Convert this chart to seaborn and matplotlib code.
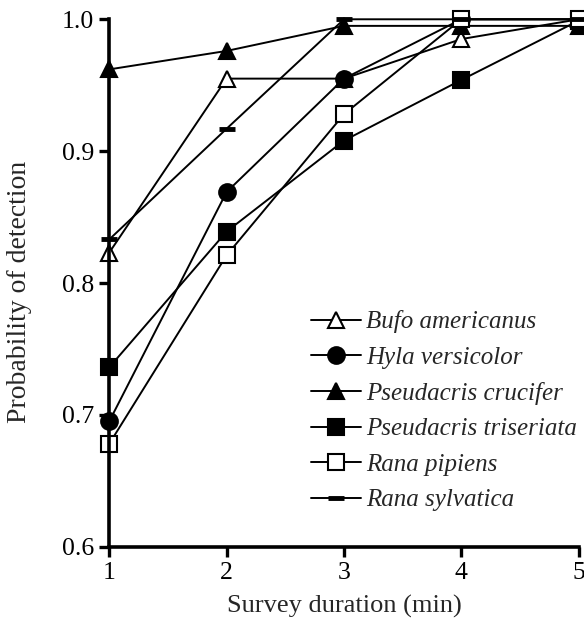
import numpy as np
import pandas as pd
import matplotlib
matplotlib.use("Agg")
import matplotlib.pyplot as plt
import seaborn as sns

# ─── Data ─────────────────────────────────────────────────────────────────────
duration = [1, 2, 3, 4, 5]
species = ["Bufo americanus", "Hyla versicolor", "Pseudacris crucifer",
           "Pseudacris triseriata", "Rana pipiens", "Rana sylvatica"]
bufo_americanus       = [0.823, 0.955, 0.955, 0.985, 1.000]
hyla_versicolor       = [0.695, 0.869, 0.955, 1.000, 1.000]
pseudacris_crucifer   = [0.962, 0.976, 0.995, 0.995, 0.995]
pseudacris_triseriata = [0.736, 0.839, 0.908, 0.954, 0.999]
rana_pipiens          = [0.678, 0.821, 0.928, 1.000, 1.000]
rana_sylvatica        = [0.833, 0.917, 1.000, 1.000, 1.000]

values = [bufo_americanus, hyla_versicolor, pseudacris_crucifer,
          pseudacris_triseriata, rana_pipiens, rana_sylvatica]

df = pd.DataFrame({
    "duration": duration * len(species),
    "prob": np.concatenate(values),
    "species": np.repeat(species, len(duration)),
})

# marker, face colour, size
styles = {
    "Bufo americanus":       ("^", "white", 12),
    "Hyla versicolor":       ("o", "black", 12),
    "Pseudacris crucifer":   ("^", "black", 12),
    "Pseudacris triseriata": ("s", "black", 11),
    "Rana pipiens":          ("s", "white", 11),
    "Rana sylvatica":        ("_", "black", 12),
}

# ─── Plot ─────────────────────────────────────────────────────────────────────
sns.set_style("ticks")
plt.rcParams["font.family"] = ["Liberation Serif", "DejaVu Serif"]

fig = plt.figure(figsize=(5.84, 6.22), dpi=100)
ax = fig.add_axes([0.187, 0.121, 0.804, 0.848])

for sp in species:
    m, fc, ms = styles[sp]
    sns.lineplot(
        data=df[df["species"] == sp], x="duration", y="prob",
        ax=ax, color="black", lw=1.4, marker=m, markersize=ms,
        markerfacecolor=fc, markeredgecolor="black",
        markeredgewidth=3.5 if m == "_" else 1.5,
        label=sp, clip_on=False,
    )

ax.set_xlim(1, 5)
ax.set_ylim(0.6, 1.0)
ax.set_xticks([1, 2, 3, 4, 5])
ax.set_yticks([0.6, 0.7, 0.8, 0.9, 1.0])
ax.set_yticklabels(["0.6", "0.7", "0.8", "0.9", "1.0"])
ax.tick_params(direction="out", length=7, width=2.4, labelsize=18.5,
               colors="black", pad=4)
ax.set_xlabel("Survey duration (min)", fontsize=19, labelpad=8)
ax.set_ylabel("Probability of detection", fontsize=20)
ax.yaxis.set_label_coords(-0.165, 0.483)

for s in ["right", "top"]:
    ax.spines[s].set_visible(False)
for s in ["left", "bottom"]:
    ax.spines[s].set_linewidth(2.6)
    ax.spines[s].set_color("black")

leg = ax.legend(loc="upper left", bbox_to_anchor=(0.43, 0.448), frameon=False,
                prop={"family": ["Liberation Serif"], "style": "italic", "size": 18},
                handlelength=2.0, handletextpad=0.2, labelspacing=0.52,
                borderpad=0, borderaxespad=0)

fig.savefig("out.png", dpi=100)
